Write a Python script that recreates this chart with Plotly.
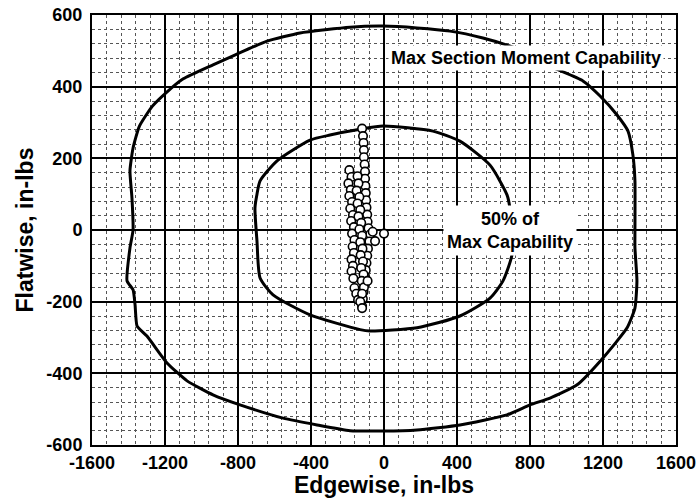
import plotly.graph_objects as go

# ---- data ----
outer_x = [-186, -5, 181, 362, 542, 674, 800, 910, 1090, 1184, 1277, 1337, 1364, 1375, 1375,
           1375, 1386, 1375, 1332, 1200, 1058, 910, 800, 674, 416, 181, -5, -186,
           -367, -553, -789, -937, -1079, -1189, -1299, -1353, -1364, -1375, -1408, -1392,
           -1375, -1381, -1392, -1375, -1340, -1270, -1190, -1100, -937, -827, -641, -460, -186]
outer_y = [566, 569, 564, 555, 536, 516, 490, 457, 416, 374, 321, 276, 209, 137, -3,
           -50, -142, -218, -273, -357, -432, -469, -488, -516, -544, -558, -561, -560,
           -544, -525, -488, -460, -421, -371, -296, -268, -209, -167, -142, -50,
           0, 89, 165, 229, 290, 345, 385, 422, 461, 486, 527, 550, 566]

inner_x = [-131, -5, 268, 416, 581, 674, 690, 700, 701, 652, 581, 416, 181, -77, -131,
           -405, -608, -679, -696, -707, -696, -679, -586, -405, -296, -131]
inner_y = [281, 290, 276, 248, 181, 98, 61, 0, -70, -142, -190, -240, -273, -282, -278,
           -237, -181, -134, -31, 61, 100, 137, 193, 251, 265, 281]

pts_x = [-120, -115, -112, -110, -110, -106, -104, -104, -102, -100, -98, -96, -92, -90, -85,
         -75, -80, -88, -92, -96, -100, -104, -108, -112, -116, -120,
         -190, -178, -195, -182, -190, -175, -185, -170, -180, -165, -175, -162, -172, -165,
         -178, -170, -178, -168, -162, -152, -142,
         -145, -140, -150, -135, -145, -130, -140, -125, -135, -120, -130, -118, -128, -115,
         -125, -112, -122, -110, -120, -130, -120,
         -49, -62, -90, 0]
pts_y = [283, 262, 243, 223, 203, 183, 163, 143, 123, 103, 83, 63, 43, 23, 5,
         -12, -32, -52, -72, -92, -112, -132, -152, -172, -192, -212,
         167, 148, 130, 112, 95, 78, 60, 42, 25, 8, -10, -28, -46, -64,
         -82, -100, -115, -135, -162, -178, -195,
         150, 130, 110, 92, 74, 56, 38, 20, 2, -16, -34, -52, -70, -88,
         -106, -124, -142, -160, -178, -200, -218,
         -31, -5, -142, -10]

x_ticks = [-1600, -1200, -800, -400, 0, 400, 800, 1200, 1600]
y_ticks = [-600, -400, -200, 0, 200, 400, 600]
x_tick_text = [str(v) for v in x_ticks]
y_tick_text = [str(v) for v in y_ticks]

x_title = "Edgewise, in-lbs"
y_title = "Flatwise, in-lbs"
label_outer = "Max Section Moment Capability"
label_inner = "50% of<br>Max Capability"

FONT = "Liberation Sans, Arial, sans-serif"

fig = go.Figure()
fig.add_trace(go.Scatter(x=outer_x, y=outer_y, mode="lines",
                         line=dict(color="black", width=3, shape="spline", smoothing=0.5),
                         hoverinfo="skip", showlegend=False))
fig.add_trace(go.Scatter(x=inner_x, y=inner_y, mode="lines",
                         line=dict(color="black", width=3, shape="spline", smoothing=0.6),
                         hoverinfo="skip", showlegend=False))
fig.add_trace(go.Scatter(x=pts_x, y=pts_y, mode="markers",
                         marker=dict(symbol="circle", size=8.5, color="white",
                                     line=dict(color="black", width=1.6)),
                         showlegend=False))

fig.add_annotation(x=778, y=480, text=label_outer, showarrow=False,
                   font=dict(family=FONT, size=18, color="black", weight="bold"),
                   bgcolor="white", borderpad=2)
fig.add_annotation(x=690, y=0, text=label_inner, showarrow=False,
                   font=dict(family=FONT, size=18, color="black", weight="bold"),
                   bgcolor="white", borderpad=3)

axis_common = dict(
    showline=True, linecolor="black", linewidth=2, mirror=True,
    showgrid=True, gridcolor="black", gridwidth=1.6,
    zeroline=False,
    tickfont=dict(family=FONT, size=18, color="black", weight="bold"),
)

fig.update_xaxes(range=[-1600, 1600], tickvals=x_ticks, ticktext=x_tick_text,
                 ticks="",
                 minor=dict(dtick=80, tick0=0, showgrid=True, griddash="dot",
                            gridcolor="#555", gridwidth=1),
                 title=dict(text=x_title, standoff=1,
                            font=dict(family=FONT, size=23, color="black", weight="bold")),
                 **axis_common)
fig.update_yaxes(range=[-600, 600], tickvals=y_ticks, ticktext=y_tick_text,
                 ticks="outside", ticklen=4, tickcolor="rgba(0,0,0,0)",
                 minor=dict(dtick=40, tick0=0, showgrid=True, griddash="dot",
                            gridcolor="#555", gridwidth=1),
                 title=dict(text=y_title, standoff=6,
                            font=dict(family=FONT, size=23, color="black", weight="bold")),
                 **axis_common)

fig.update_layout(
    width=698, height=498,
    margin=dict(l=92, r=22, t=15, b=53, autoexpand=False),
    plot_bgcolor="white", paper_bgcolor="white",
    font=dict(family=FONT, color="black"),
)

fig.write_html("out.html")
